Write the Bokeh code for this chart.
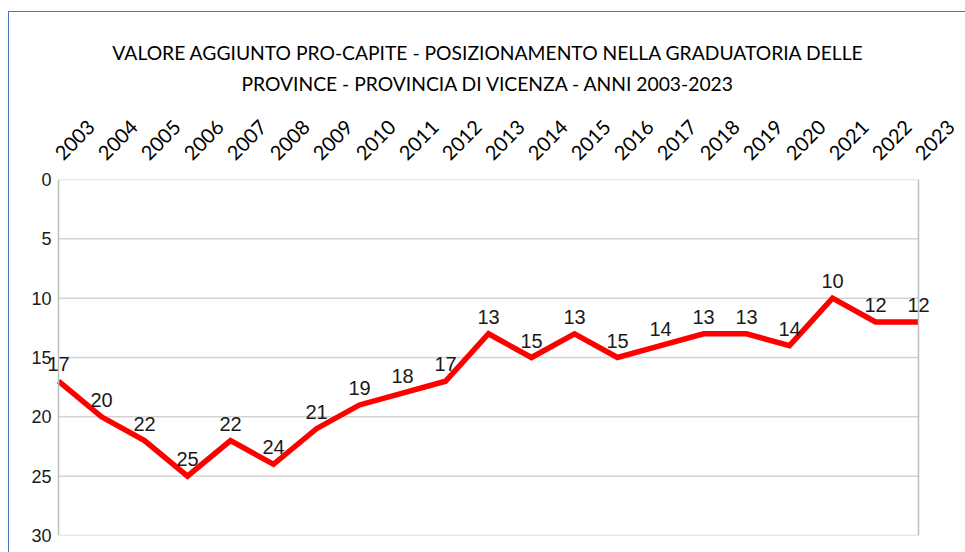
import math
from bokeh.plotting import figure
from bokeh.models import (Range1d, FixedTicker, ColumnDataSource, LabelSet, Title, Span,
                          InlineStyleSheet)
from bokeh.core.properties import value
from bokeh.embed import file_html
from bokeh.resources import INLINE

years = list(range(2003, 2024))
ranks = [17, 20, 22, 25, 22, 24, 21, 19, 18, 17, 13, 15, 13, 15, 14, 13, 13, 14, 10, 12, 12]
y_ticks = [0, 5, 10, 15, 20, 25, 30]
title_lines = ["VALORE AGGIUNTO PRO-CAPITE - POSIZIONAMENTO NELLA GRADUATORIA DELLE",
               "PROVINCE - PROVINCIA DI VICENZA - ANNI 2003-2023"]

W, H = 965, 552
first, last = years[0], years[-1]
pad = 20 / 43.0  # extra room so edge data labels are not clipped
p = figure(width=W, height=H, output_backend="svg", toolbar_location=None,
           x_range=Range1d(first - pad, last + pad), y_range=Range1d(30, 0),
           x_axis_location="above",
           min_border_left=38, min_border_right=27, min_border_top=179, min_border_bottom=17)
p.title = None
p.background_fill_color = "white"
p.border_fill_color = "white"
p.outline_line_color = None

xa = p.xaxis[0]
xa.ticker = FixedTicker(ticks=years)
xa.major_label_orientation = math.pi / 4
xa.axis_line_color = None
xa.major_tick_line_color = None
xa.minor_tick_line_color = None
xa.major_label_text_font = "Lato"
xa.major_label_text_font_size = "20px"
xa.major_label_text_color = "black"
xa.major_label_standoff = 17

ya = p.yaxis[0]
ya.ticker = FixedTicker(ticks=y_ticks)
ya.axis_line_color = None
ya.major_tick_line_color = None
ya.minor_tick_line_color = None
ya.major_label_text_font = "Liberation Sans"
ya.major_label_text_font_size = "18px"
ya.major_label_text_color = "#1a1a1a"
ya.major_label_standoff = -19

p.xgrid.grid_line_color = None
p.ygrid.grid_line_color = None

# horizontal grid lines limited to the plotted years
p.segment(x0=[first] * len(y_ticks), x1=[last] * len(y_ticks), y0=y_ticks, y1=y_ticks,
          line_color="#d3d3d3", line_width=1.5)
# axis line and right border
p.add_layout(Span(location=first, dimension="height", line_color="#bfbfbf", line_width=1.5))
p.add_layout(Span(location=last, dimension="height", line_color="#bfbfbf", line_width=1.5))

src = ColumnDataSource(dict(x=years, y=ranks, t=[str(v) for v in ranks]))
p.line("x", "y", source=src, line_color="#ff0000", line_width=5.5, line_join="miter")

labels = LabelSet(x="x", y="y", text="t", source=src, y_offset=17,
                  text_align="center", text_baseline="middle",
                  text_font=value("Liberation Sans"), text_font_size=value("20px"),
                  text_color=value("#1a1a1a"))
p.add_layout(labels)

for i, line in enumerate(reversed(title_lines)):
    p.add_layout(Title(text=line, align="center", text_font="Lato",
                       text_font_size="19.3px", text_font_style="normal",
                       text_color="black", standoff=(31 if i == 0 else -18)), "above")

p.stylesheets = [InlineStyleSheet(css="""
:host { position: relative; }
:host::after { content: ""; position: absolute; left: 8px; top: 11px; right: 0; bottom: 0;
  border-left: 1.5px solid #4a74b8; border-top: 1.5px solid #4a74b8; pointer-events: none; }
""")]

open("out.html", "w").write(file_html(p, INLINE))
